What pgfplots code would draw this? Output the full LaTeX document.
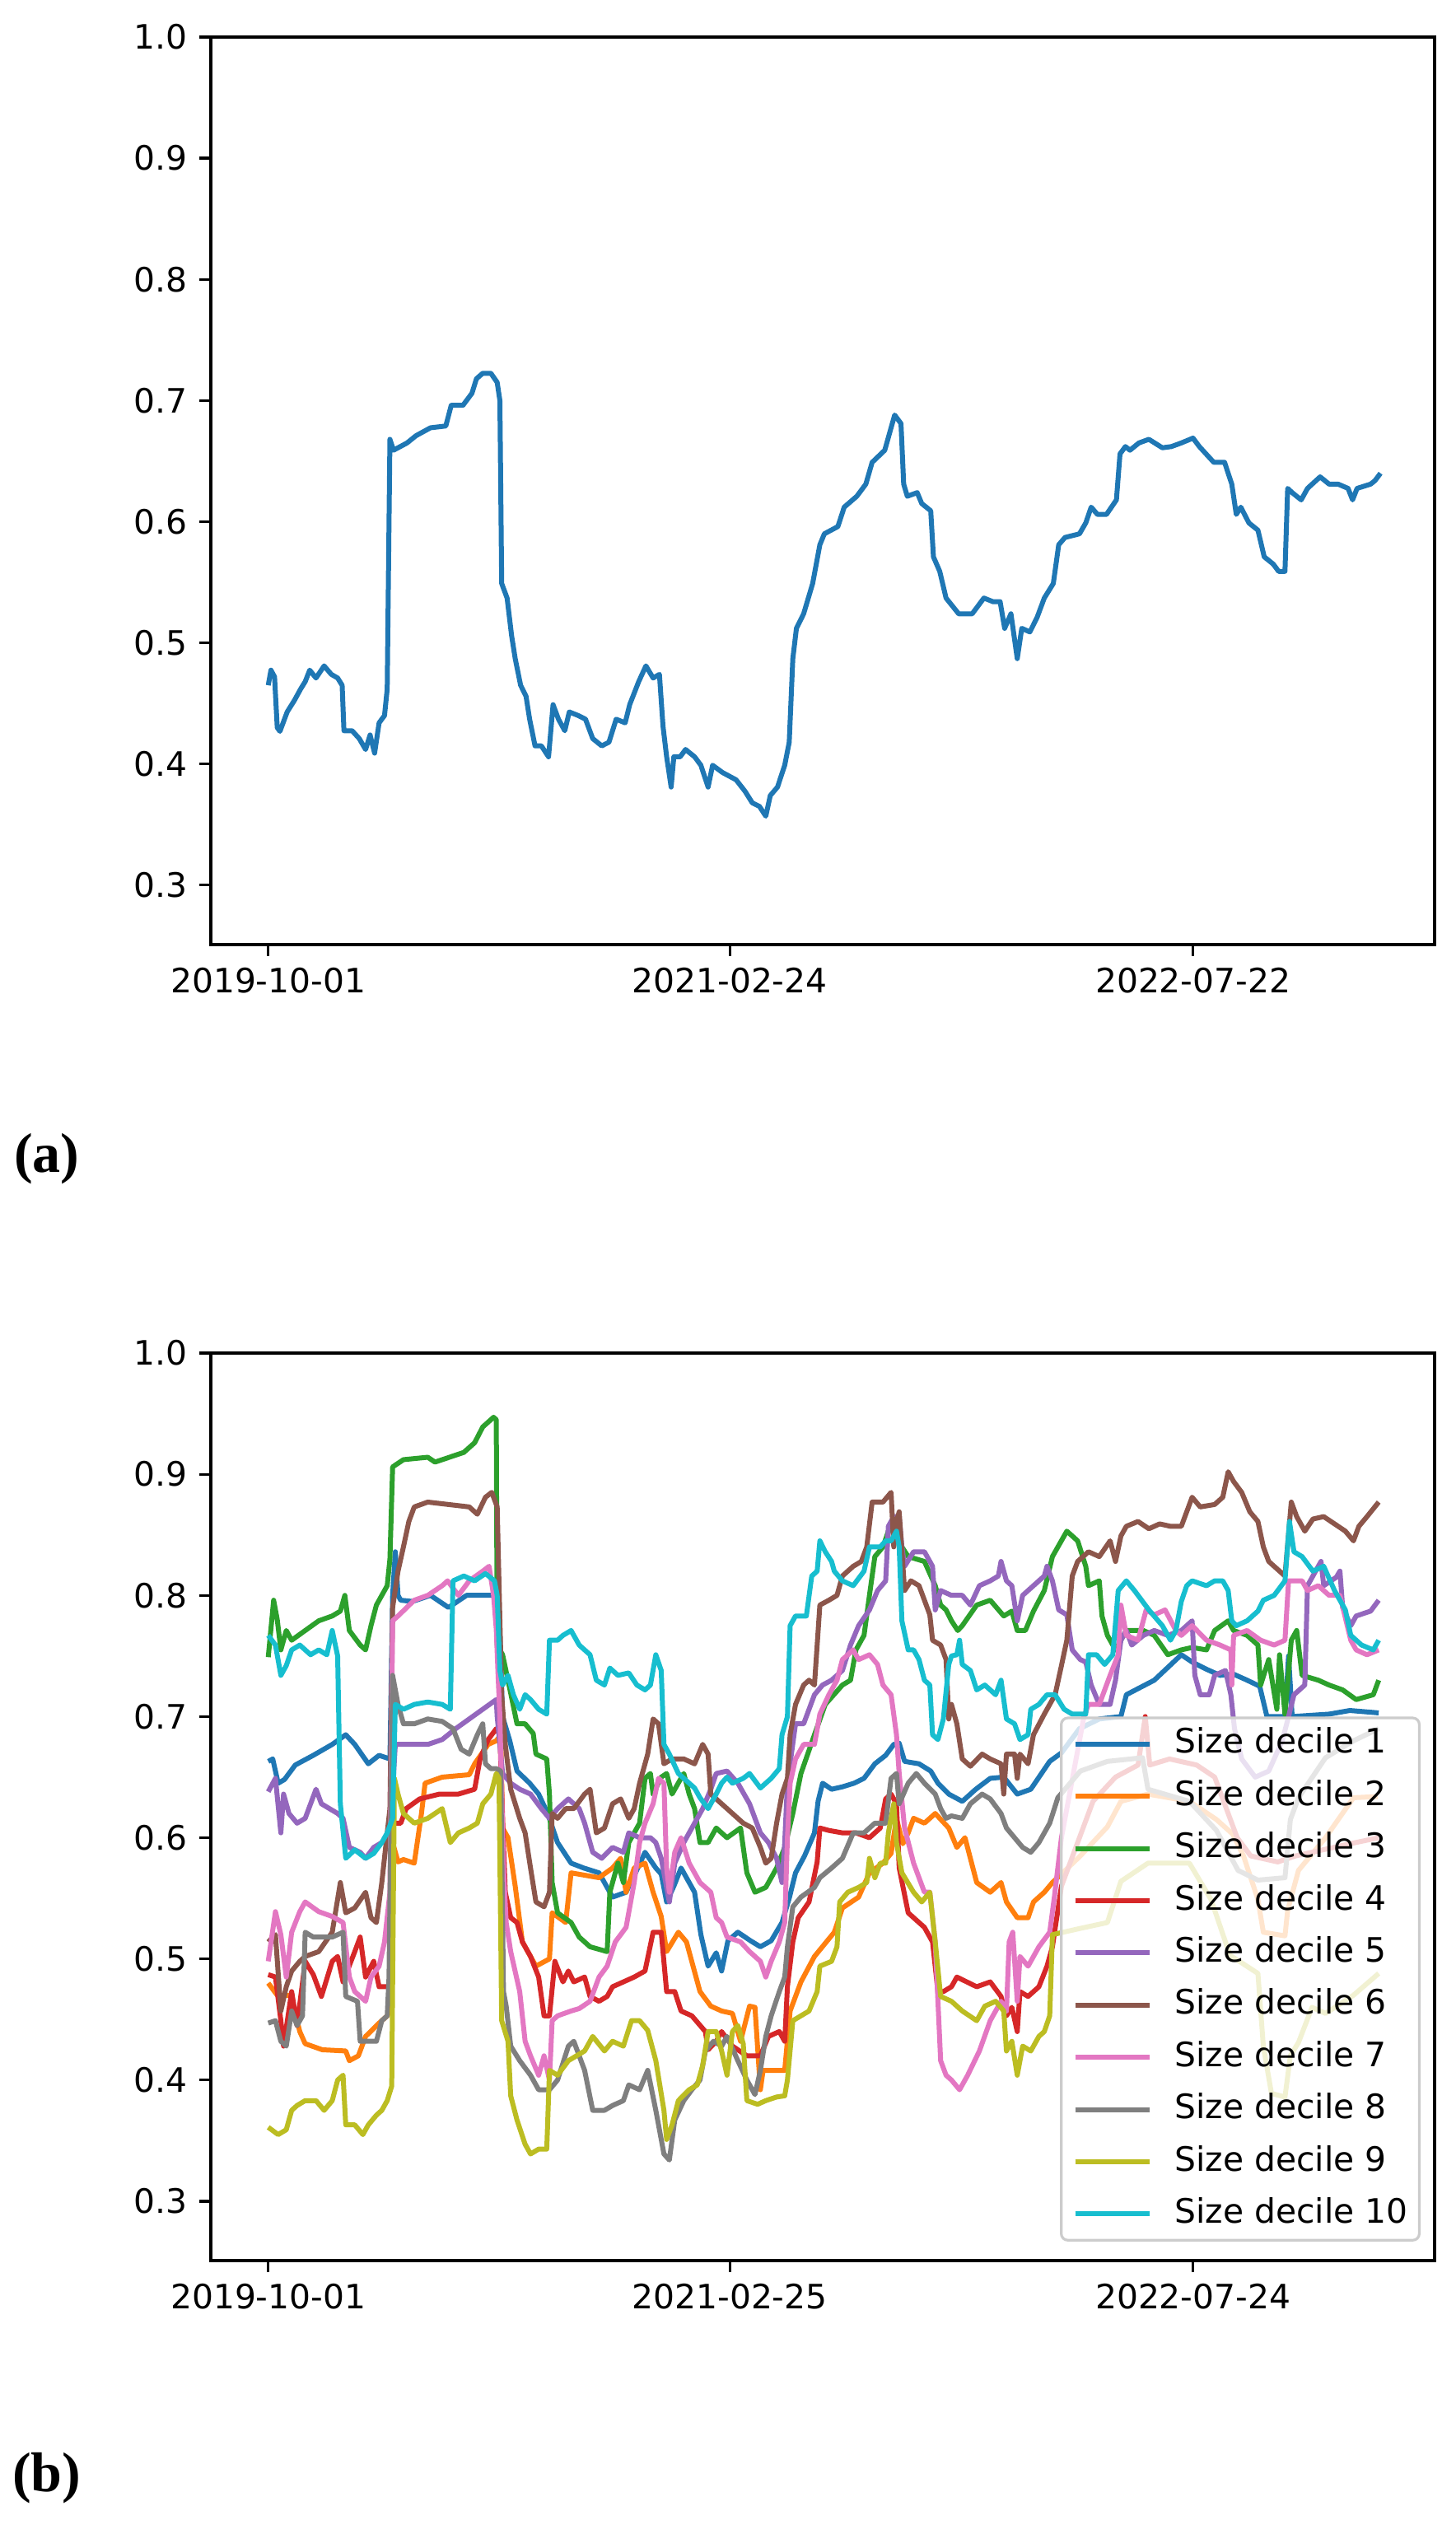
\documentclass[border=0pt]{standalone}
\usepackage{fontspec}
\setmainfont{DejaVu Sans}
\newfontfamily\labfont{Liberation Serif}
\usepackage{pgfplots}
\pgfplotsset{compat=1.18}

\definecolor{c1}{HTML}{1F77B4}
\definecolor{c2}{HTML}{FF7F0E}
\definecolor{c3}{HTML}{2CA02C}
\definecolor{c4}{HTML}{D62728}
\definecolor{c5}{HTML}{9467BD}
\definecolor{c6}{HTML}{8C564B}
\definecolor{c7}{HTML}{E377C2}
\definecolor{c8}{HTML}{7F7F7F}
\definecolor{c9}{HTML}{BCBD22}
\definecolor{c10}{HTML}{17BECF}

\pgfplotsset{
  mpl/.style={
    anchor=south west, scale only axis, width=371.5pt, height=275.5pt,
    xmin=-63.7, xmax=1294, ymin=0.251, ymax=1.0,
    ytick={0.3,0.4,0.5,0.6,0.7,0.8,0.9,1.0},
    yticklabels={0.3,0.4,0.5,0.6,0.7,0.8,0.9,1.0},
    xtick={0,512,1026},
    tick align=outside, xtick pos=left, ytick pos=left,
    major tick length=3.5pt,
    every tick/.style={black, line width=0.8pt},
    axis line style={line width=0.8pt},
    ticklabel style={font=\fontsize{10.2}{12}\selectfont},
    every axis plot/.append style={line width=1.5pt, line join=round, mark=none},
  },
}

\begin{document}
\begin{tikzpicture}[x=1pt,y=1pt]
\useasboundingbox (0,0) rectangle (442,769.25);

% (a) aggregate series
\begin{axis}[mpl, at={(64pt,482.5pt)},
  xticklabels={2019-10-01,2021-02-24,2022-07-22}]
\addplot[c1] coordinates {
(0,0.465)(3,0.4775)(7,0.472)(10,0.43)(13,0.427)(21,0.443)(29,0.4525)(36,0.462)(41,0.468)(46,0.4775)(53,0.471)(62,0.481)(70,0.474)(77,0.471)(82,0.465)(84,0.4275)(93,0.4275)(101,0.421)(108,0.412)(113,0.424)(118,0.409)(123,0.434)(129,0.44)(132,0.462)(135,0.668)(139,0.659)(154,0.665)(164,0.671)(180,0.6775)(197,0.679)(203,0.696)(216,0.696)(226,0.706)(231,0.718)(238,0.7225)(247,0.7225)(254,0.715)(257,0.70)(259,0.549)(265,0.537)(270,0.506)(274,0.487)(280,0.465)(286,0.456)(290,0.437)(296,0.415)(303,0.415)(311,0.406)(316,0.449)(322,0.437)(329,0.4275)(334,0.443)(344,0.44)(352,0.437)(360,0.421)(370,0.415)(378,0.418)(386,0.437)(396,0.434)(401,0.449)(411,0.468)(419,0.481)(427,0.471)(434,0.474)(438,0.431)(442,0.406)(447,0.381)(450,0.406)(457,0.406)(463,0.412)(473,0.406)(480,0.399)(488,0.381)(493,0.399)(504,0.393)(519,0.387)(529,0.3775)(537,0.368)(545,0.365)(552,0.357)(557,0.374)(565,0.381)(573,0.399)(578,0.418)(582,0.487)(586,0.512)(594,0.524)(604,0.549)(612,0.581)(617,0.59)(632,0.596)(639,0.612)(653,0.621)(663,0.631)(670,0.649)(684,0.659)(691,0.6775)(695,0.688)(702,0.681)(705,0.631)(709,0.621)(720,0.624)(725,0.615)(735,0.609)(738,0.571)(745,0.559)(752,0.537)(766,0.524)(781,0.524)(794,0.537)(804,0.534)(812,0.534)(817,0.512)(824,0.524)(831,0.487)(836,0.512)(845,0.509)(853,0.521)(861,0.537)(871,0.549)(877,0.581)(884,0.587)(900,0.59)(907,0.599)(913,0.612)(920,0.606)(930,0.606)(941,0.618)(945,0.656)(951,0.662)(956,0.659)(966,0.665)(977,0.668)(992,0.661)(1002,0.662)(1013,0.665)(1026,0.669)(1033,0.662)(1049,0.649)(1061,0.649)(1069,0.631)(1074,0.606)(1079,0.612)(1088,0.599)(1098,0.593)(1105,0.571)(1115,0.565)(1121,0.559)(1128,0.559)(1131,0.6275)(1136,0.624)(1146,0.618)(1153,0.6275)(1167,0.637)(1177,0.631)(1187,0.631)(1198,0.6275)(1203,0.618)(1208,0.6275)(1223,0.631)(1228,0.634)(1234,0.64)
};
\end{axis}

% (b) size deciles
\begin{axis}[mpl, at={(64pt,83pt)},
  xticklabels={2019-10-01,2021-02-25,2022-07-24},
  legend cell align=left,
  legend image code/.code={\draw[#1] (0pt,0pt) -- (22.5pt,0pt); \path (29.5pt,0pt);},
  legend style={at={(0.9886,0.021)}, anchor=south east,
    draw=black!20, line width=0.8pt, rounded corners=2pt,
    fill=white, fill opacity=0.8, text opacity=1, draw opacity=1,
    font=\fontsize{10.2}{12}\selectfont,
    nodes={inner sep=0pt, text height=8pt, text depth=2.5pt},
    row sep=5.35pt, inner xsep=3.5pt, inner ysep=2.7pt}]
\addplot[c1] coordinates {
(0,0.663)(5,0.665)(11,0.645)(18,0.648)(30,0.66)(50,0.668)(71,0.677)(86,0.685)(96,0.677)(111,0.661)(123,0.668)(135,0.665)(138,0.80)(141,0.836)(144,0.80)(147,0.796)(160,0.795)(180,0.80)(200,0.79)(220,0.80)(240,0.80)(252,0.80)(256,0.79)(260,0.70)(268,0.68)(276,0.655)(290,0.645)(300,0.636)(310,0.62)(321,0.596)(336,0.579)(350,0.575)(367,0.571)(382,0.551)(397,0.555)(410,0.575)(418,0.588)(430,0.575)(436,0.57)(442,0.547)(450,0.56)(458,0.575)(473,0.555)(480,0.52)(488,0.494)(497,0.505)(503,0.49)(510,0.515)(521,0.522)(535,0.515)(546,0.51)(558,0.515)(570,0.53)(578,0.55)(585,0.571)(595,0.585)(606,0.604)(610,0.63)(615,0.645)(625,0.64)(637,0.642)(650,0.645)(661,0.649)(673,0.661)(685,0.668)(694,0.677)(700,0.678)(706,0.663)(722,0.661)(735,0.655)(743,0.645)(755,0.636)(770,0.63)(785,0.64)(801,0.649)(816,0.65)(831,0.636)(846,0.64)(867,0.663)(880,0.67)(900,0.69)(922,0.698)(946,0.70)(952,0.718)(983,0.73)(1013,0.751)(1025,0.745)(1041,0.739)(1056,0.734)(1071,0.735)(1086,0.73)(1100,0.725)(1108,0.70)(1128,0.70)(1132,0.75)(1136,0.70)(1177,0.702)(1200,0.705)(1232,0.703)
};
\addlegendentry{Size decile 1}
\addplot[c2] coordinates {
(0,0.48)(10,0.47)(25,0.47)(35,0.44)(41,0.43)(60,0.425)(86,0.424)(90,0.416)(100,0.42)(108,0.436)(123,0.447)(132,0.453)(136,0.46)(138,0.596)(144,0.58)(150,0.582)(162,0.579)(170,0.62)(174,0.645)(193,0.65)(223,0.652)(229,0.661)(244,0.677)(253,0.68)(258,0.685)(260,0.608)(266,0.60)(274,0.56)(282,0.514)(297,0.494)(312,0.50)(315,0.538)(330,0.53)(336,0.571)(367,0.567)(382,0.575)(391,0.583)(397,0.555)(406,0.575)(418,0.579)(427,0.555)(436,0.535)(442,0.506)(455,0.522)(464,0.514)(479,0.473)(491,0.461)(503,0.457)(515,0.455)(524,0.432)(534,0.461)(540,0.46)(546,0.392)(549,0.408)(573,0.408)(579,0.457)(591,0.481)(606,0.502)(628,0.522)(637,0.542)(655,0.551)(667,0.571)(682,0.579)(691,0.587)(697,0.616)(704,0.595)(710,0.604)(716,0.616)(728,0.612)(740,0.62)(755,0.608)(764,0.592)(773,0.60)(786,0.563)(801,0.555)(813,0.563)(819,0.547)(831,0.534)(843,0.534)(849,0.547)(861,0.555)(870,0.563)(880,0.57)(901,0.585)(931,0.609)(946,0.63)(976,0.636)(1022,0.63)(1052,0.615)(1070,0.603)(1082,0.585)(1098,0.549)(1104,0.522)(1128,0.519)(1131,0.54)(1143,0.573)(1173,0.60)(1204,0.633)(1231,0.634)
};
\addlegendentry{Size decile 2}
\addplot[c3] coordinates {
(0,0.749)(6,0.796)(10,0.78)(14,0.755)(20,0.771)(26,0.763)(41,0.771)(56,0.779)(71,0.783)(80,0.787)(85,0.80)(90,0.771)(102,0.759)(108,0.755)(114,0.775)(120,0.792)(126,0.80)(132,0.808)(135,0.83)(138,0.906)(150,0.912)(177,0.914)(185,0.91)(193,0.912)(217,0.918)(229,0.926)(238,0.939)(250,0.947)(253,0.945)(254,0.759)(260,0.751)(266,0.73)(276,0.694)(285,0.694)(294,0.686)(297,0.669)(309,0.665)(312,0.636)(315,0.563)(321,0.538)(336,0.53)(345,0.518)(357,0.51)(376,0.506)(379,0.555)(388,0.579)(394,0.563)(400,0.596)(412,0.612)(418,0.649)(424,0.653)(427,0.636)(436,0.65)(442,0.653)(448,0.636)(461,0.653)(467,0.636)(473,0.624)(479,0.596)(488,0.596)(497,0.608)(503,0.604)(509,0.6)(524,0.608)(531,0.571)(540,0.555)(552,0.559)(564,0.575)(573,0.592)(582,0.62)(591,0.653)(606,0.685)(618,0.71)(637,0.726)(646,0.73)(652,0.755)(661,0.767)(667,0.80)(673,0.832)(682,0.84)(688,0.853)(694,0.857)(703,0.84)(710,0.832)(728,0.828)(740,0.808)(746,0.792)(752,0.788)(758,0.779)(765,0.771)(770,0.775)(786,0.792)(801,0.796)(816,0.783)(825,0.787)(831,0.771)(840,0.771)(849,0.787)(861,0.804)(870,0.832)(886,0.853)(898,0.845)(907,0.824)(910,0.808)(922,0.812)(925,0.783)(931,0.767)(940,0.755)(952,0.771)(971,0.771)(983,0.767)(998,0.751)(1013,0.755)(1025,0.757)(1041,0.755)(1050,0.771)(1065,0.779)(1071,0.771)(1086,0.767)(1098,0.759)(1101,0.726)(1110,0.747)(1119,0.706)(1122,0.751)(1128,0.702)(1135,0.763)(1141,0.771)(1147,0.734)(1165,0.73)(1177,0.726)(1192,0.722)(1207,0.714)(1226,0.718)(1232,0.73)
};
\addlegendentry{Size decile 3}
\addplot[c4] coordinates {
(0,0.487)(8,0.485)(14,0.449)(17,0.428)(26,0.473)(32,0.445)(41,0.498)(50,0.487)(59,0.469)(71,0.498)(77,0.502)(83,0.481)(96,0.506)(102,0.518)(108,0.485)(117,0.498)(123,0.477)(132,0.477)(136,0.48)(138,0.612)(147,0.612)(153,0.624)(168,0.632)(190,0.636)(211,0.636)(229,0.64)(235,0.665)(244,0.681)(253,0.69)(257,0.685)(260,0.616)(263,0.555)(269,0.534)(276,0.53)(282,0.514)(291,0.502)(300,0.485)(306,0.453)(312,0.453)(318,0.498)(327,0.481)(333,0.49)(339,0.481)(351,0.485)(357,0.469)(367,0.465)(376,0.469)(382,0.477)(394,0.481)(406,0.485)(418,0.49)(427,0.522)(436,0.522)(442,0.473)(451,0.473)(458,0.457)(470,0.453)(485,0.44)(488,0.425)(497,0.432)(503,0.44)(515,0.428)(531,0.42)(546,0.42)(555,0.436)(567,0.44)(573,0.432)(576,0.477)(582,0.514)(588,0.534)(600,0.547)(609,0.58)(612,0.608)(622,0.606)(637,0.604)(652,0.604)(667,0.6)(673,0.604)(679,0.608)(685,0.632)(691,0.636)(697,0.628)(700,0.575)(710,0.538)(722,0.53)(728,0.526)(737,0.514)(743,0.473)(749,0.473)(758,0.477)(764,0.485)(786,0.477)(801,0.481)(813,0.469)(819,0.453)(825,0.46)(831,0.44)(834,0.473)(843,0.469)(855,0.477)(864,0.494)(870,0.51)(880,0.56)(900,0.60)(915,0.63)(940,0.65)(965,0.66)(973,0.70)(978,0.66)(1000,0.665)(1030,0.66)(1050,0.65)(1065,0.62)(1075,0.60)(1090,0.585)(1120,0.58)(1140,0.585)(1170,0.59)(1200,0.595)(1232,0.60)
};
\addlegendentry{Size decile 4}
\addplot[c5] coordinates {
(0,0.638)(8,0.649)(14,0.604)(17,0.636)(23,0.62)(32,0.612)(41,0.616)(53,0.64)(59,0.628)(68,0.624)(77,0.62)(83,0.616)(90,0.592)(102,0.588)(108,0.583)(117,0.592)(126,0.596)(135,0.60)(141,0.677)(177,0.677)(193,0.681)(208,0.69)(223,0.698)(238,0.706)(253,0.714)(254,0.70)(260,0.653)(269,0.645)(279,0.64)(291,0.636)(303,0.624)(312,0.616)(321,0.624)(333,0.632)(345,0.624)(351,0.612)(360,0.588)(370,0.583)(382,0.592)(394,0.588)(400,0.604)(412,0.60)(424,0.60)(430,0.596)(436,0.583)(445,0.547)(451,0.579)(461,0.596)(473,0.612)(482,0.624)(491,0.64)(497,0.653)(509,0.655)(521,0.645)(534,0.628)(546,0.604)(555,0.596)(564,0.583)(570,0.563)(573,0.596)(576,0.645)(585,0.694)(594,0.694)(606,0.718)(615,0.726)(625,0.73)(637,0.738)(646,0.759)(655,0.775)(667,0.788)(676,0.804)(685,0.812)(688,0.857)(694,0.865)(700,0.865)(703,0.84)(706,0.824)(716,0.836)(728,0.836)(737,0.824)(740,0.788)(746,0.804)(758,0.80)(770,0.80)(779,0.792)(789,0.808)(801,0.812)(810,0.816)(813,0.828)(819,0.812)(825,0.808)(831,0.779)(837,0.80)(849,0.808)(861,0.816)(864,0.824)(870,0.812)(877,0.788)(886,0.784)(892,0.755)(901,0.747)(907,0.745)(913,0.726)(922,0.71)(934,0.71)(940,0.73)(946,0.763)(952,0.771)(958,0.759)(971,0.767)(983,0.771)(998,0.767)(1013,0.771)(1025,0.779)(1028,0.734)(1034,0.718)(1044,0.718)(1050,0.734)(1062,0.738)(1068,0.718)(1072,0.69)(1080,0.665)(1095,0.65)(1110,0.655)(1125,0.68)(1132,0.70)(1138,0.718)(1150,0.726)(1153,0.808)(1168,0.828)(1171,0.808)(1185,0.815)(1189,0.82)(1192,0.79)(1201,0.775)(1207,0.783)(1223,0.787)(1232,0.796)
};
\addlegendentry{Size decile 5}
\addplot[c6] coordinates {
(0,0.514)(8,0.52)(14,0.457)(20,0.477)(26,0.49)(35,0.498)(41,0.502)(56,0.506)(71,0.522)(80,0.563)(86,0.538)(96,0.542)(108,0.555)(114,0.534)(120,0.53)(126,0.563)(132,0.604)(135,0.624)(138,0.79)(144,0.82)(150,0.84)(156,0.861)(162,0.873)(177,0.877)(200,0.875)(223,0.873)(232,0.867)(241,0.881)(248,0.885)(254,0.873)(259,0.718)(263,0.677)(269,0.64)(279,0.616)(285,0.604)(291,0.575)(297,0.547)(306,0.543)(312,0.555)(315,0.62)(321,0.616)(330,0.624)(339,0.624)(351,0.636)(357,0.64)(364,0.604)(373,0.608)(382,0.628)(391,0.632)(400,0.616)(406,0.624)(412,0.645)(421,0.669)(427,0.698)(433,0.694)(439,0.661)(448,0.665)(461,0.665)(473,0.661)(482,0.677)(488,0.669)(491,0.636)(503,0.628)(515,0.62)(527,0.612)(537,0.608)(546,0.592)(552,0.579)(558,0.583)(564,0.612)(570,0.636)(576,0.649)(579,0.685)(585,0.71)(594,0.726)(600,0.73)(606,0.726)(612,0.792)(622,0.796)(631,0.80)(637,0.816)(649,0.824)(658,0.828)(664,0.84)(670,0.877)(682,0.877)(691,0.885)(694,0.84)(697,0.861)(700,0.869)(706,0.804)(713,0.812)(722,0.808)(728,0.796)(734,0.784)(737,0.763)(746,0.759)(752,0.747)(755,0.698)(758,0.71)(764,0.694)(770,0.665)(779,0.659)(792,0.669)(801,0.665)(813,0.661)(816,0.636)(819,0.669)(828,0.669)(831,0.649)(834,0.669)(843,0.661)(849,0.685)(861,0.702)(873,0.718)(880,0.742)(886,0.763)(892,0.816)(898,0.828)(910,0.836)(922,0.832)(934,0.845)(940,0.828)(946,0.849)(952,0.857)(965,0.861)(977,0.855)(989,0.859)(1001,0.857)(1013,0.857)(1025,0.881)(1034,0.873)(1050,0.875)(1059,0.881)(1065,0.902)(1071,0.894)(1080,0.885)(1089,0.869)(1098,0.861)(1104,0.84)(1110,0.828)(1122,0.82)(1128,0.816)(1135,0.877)(1141,0.865)(1150,0.853)(1159,0.863)(1171,0.865)(1183,0.859)(1195,0.853)(1204,0.845)(1210,0.857)(1219,0.865)(1232,0.877)
};
\addlegendentry{Size decile 6}
\addplot[c7] coordinates {
(0,0.498)(8,0.539)(14,0.52)(20,0.485)(26,0.522)(35,0.539)(41,0.547)(56,0.539)(71,0.535)(83,0.53)(90,0.485)(96,0.473)(108,0.465)(114,0.485)(123,0.494)(129,0.514)(135,0.555)(138,0.779)(144,0.783)(162,0.796)(177,0.80)(193,0.808)(199,0.812)(211,0.80)(223,0.812)(238,0.82)(245,0.824)(250,0.80)(253,0.772)(255,0.734)(257,0.70)(259,0.636)(261,0.575)(264,0.53)(269,0.506)(279,0.473)(285,0.432)(291,0.42)(300,0.404)(306,0.42)(312,0.40)(315,0.449)(321,0.453)(336,0.457)(345,0.459)(357,0.465)(367,0.485)(376,0.494)(385,0.514)(397,0.526)(406,0.563)(412,0.596)(418,0.612)(427,0.628)(433,0.649)(439,0.645)(442,0.575)(445,0.555)(451,0.588)(458,0.60)(467,0.579)(479,0.563)(491,0.555)(497,0.534)(503,0.53)(509,0.518)(524,0.514)(534,0.506)(546,0.498)(552,0.485)(558,0.498)(567,0.514)(573,0.53)(576,0.60)(579,0.645)(585,0.665)(594,0.677)(606,0.677)(612,0.702)(622,0.718)(631,0.73)(637,0.747)(649,0.755)(655,0.747)(667,0.751)(676,0.743)(682,0.726)(691,0.718)(697,0.685)(700,0.653)(706,0.608)(716,0.579)(728,0.555)(734,0.555)(740,0.514)(746,0.416)(752,0.404)(758,0.40)(767,0.392)(776,0.404)(789,0.424)(801,0.449)(813,0.465)(819,0.457)(822,0.514)(826,0.522)(831,0.465)(834,0.502)(843,0.494)(855,0.51)(867,0.522)(872,0.55)(880,0.60)(895,0.66)(905,0.70)(910,0.71)(922,0.71)(934,0.734)(943,0.751)(946,0.792)(952,0.767)(965,0.763)(974,0.788)(983,0.784)(995,0.788)(1007,0.771)(1013,0.767)(1025,0.775)(1041,0.763)(1056,0.759)(1068,0.755)(1069,0.726)(1071,0.767)(1086,0.771)(1101,0.763)(1116,0.759)(1128,0.763)(1132,0.812)(1147,0.812)(1153,0.804)(1165,0.808)(1177,0.80)(1189,0.80)(1201,0.763)(1207,0.755)(1219,0.751)(1232,0.755)
};
\addlegendentry{Size decile 7}
\addplot[c8] coordinates {
(0,0.447)(8,0.449)(14,0.432)(20,0.428)(26,0.457)(32,0.445)(38,0.453)(41,0.522)(50,0.518)(71,0.518)(83,0.522)(86,0.469)(99,0.465)(102,0.432)(120,0.432)(126,0.449)(132,0.453)(134,0.485)(138,0.734)(144,0.71)(150,0.694)(162,0.694)(177,0.698)(193,0.696)(205,0.69)(214,0.673)(223,0.669)(232,0.685)(238,0.694)(241,0.661)(247,0.657)(253,0.657)(258,0.655)(261,0.473)(264,0.461)(269,0.428)(279,0.416)(291,0.404)(300,0.392)(312,0.392)(321,0.40)(333,0.428)(339,0.432)(351,0.408)(360,0.375)(373,0.375)(382,0.379)(394,0.383)(400,0.396)(412,0.392)(421,0.408)(430,0.375)(439,0.339)(445,0.334)(451,0.367)(461,0.383)(470,0.392)(479,0.40)(485,0.424)(494,0.432)(503,0.428)(509,0.436)(521,0.416)(531,0.40)(540,0.388)(546,0.408)(552,0.436)(558,0.453)(567,0.473)(573,0.485)(576,0.51)(582,0.543)(591,0.551)(606,0.559)(612,0.567)(625,0.575)(637,0.583)(649,0.604)(661,0.604)(673,0.612)(685,0.612)(691,0.649)(697,0.653)(700,0.628)(710,0.645)(719,0.653)(728,0.645)(740,0.636)(746,0.624)(752,0.616)(758,0.618)(770,0.616)(779,0.628)(792,0.636)(801,0.632)(813,0.62)(819,0.608)(828,0.6)(837,0.592)(846,0.588)(855,0.596)(867,0.612)(876,0.633)(901,0.655)(931,0.663)(970,0.666)(976,0.64)(1022,0.63)(1052,0.606)(1076,0.573)(1098,0.565)(1128,0.567)(1134,0.615)(1143,0.633)(1173,0.666)(1204,0.68)(1232,0.69)
};
\addlegendentry{Size decile 8}
\addplot[c9] coordinates {
(0,0.361)(11,0.355)(20,0.359)(26,0.375)(32,0.379)(41,0.383)(53,0.383)(62,0.375)(71,0.383)(77,0.40)(83,0.404)(86,0.363)(96,0.363)(105,0.355)(111,0.363)(120,0.371)(126,0.375)(132,0.383)(137,0.395)(140,0.649)(144,0.636)(150,0.62)(162,0.612)(177,0.616)(193,0.624)(202,0.596)(211,0.604)(223,0.608)(232,0.612)(238,0.628)(247,0.636)(253,0.653)(256,0.649)(259,0.449)(266,0.432)(269,0.387)(276,0.367)(285,0.347)(291,0.339)(300,0.343)(309,0.343)(312,0.408)(321,0.404)(333,0.416)(351,0.424)(360,0.436)(373,0.424)(382,0.432)(394,0.428)(403,0.449)(412,0.449)(421,0.441)(430,0.416)(439,0.375)(442,0.351)(448,0.363)(455,0.383)(467,0.392)(476,0.396)(482,0.412)(488,0.44)(497,0.44)(503,0.424)(509,0.404)(515,0.44)(521,0.445)(527,0.43)(531,0.383)(543,0.38)(552,0.383)(564,0.386)(573,0.387)(576,0.40)(582,0.449)(591,0.453)(600,0.457)(609,0.473)(612,0.494)(625,0.498)(631,0.51)(634,0.547)(643,0.555)(655,0.559)(664,0.563)(667,0.583)(673,0.567)(679,0.579)(685,0.579)(688,0.604)(694,0.628)(697,0.596)(703,0.571)(716,0.555)(725,0.547)(734,0.555)(740,0.514)(746,0.469)(758,0.465)(770,0.457)(786,0.449)(795,0.461)(807,0.465)(816,0.457)(819,0.424)(825,0.432)(831,0.404)(837,0.428)(846,0.424)(855,0.436)(861,0.44)(867,0.453)(870,0.52)(900,0.525)(931,0.53)(946,0.564)(976,0.579)(1022,0.579)(1046,0.549)(1067,0.503)(1098,0.488)(1104,0.428)(1113,0.389)(1128,0.386)(1134,0.42)(1143,0.431)(1158,0.46)(1173,0.455)(1204,0.47)(1232,0.488)
};
\addlegendentry{Size decile 9}
\addplot[c10] coordinates {
(0,0.767)(8,0.759)(14,0.734)(20,0.742)(26,0.755)(35,0.759)(47,0.751)(56,0.755)(65,0.751)(71,0.771)(77,0.75)(80,0.628)(86,0.583)(96,0.59)(108,0.583)(117,0.587)(126,0.596)(132,0.604)(138,0.616)(141,0.71)(150,0.706)(162,0.71)(177,0.712)(193,0.71)(202,0.706)(205,0.812)(217,0.816)(229,0.812)(241,0.818)(251,0.812)(254,0.80)(257,0.738)(260,0.726)(266,0.734)(272,0.718)(279,0.706)(285,0.718)(291,0.714)(300,0.706)(309,0.702)(312,0.763)(321,0.763)(327,0.767)(336,0.771)(345,0.759)(357,0.751)(364,0.73)(373,0.726)(379,0.74)(388,0.734)(400,0.736)(409,0.726)(418,0.722)(424,0.726)(430,0.751)(436,0.738)(439,0.677)(445,0.669)(455,0.653)(461,0.649)(473,0.641)(479,0.633)(488,0.624)(497,0.636)(503,0.645)(509,0.65)(515,0.645)(527,0.649)(534,0.653)(546,0.641)(558,0.649)(567,0.657)(570,0.685)(576,0.70)(579,0.775)(585,0.783)(597,0.783)(603,0.816)(609,0.82)(612,0.845)(618,0.836)(625,0.828)(628,0.82)(637,0.812)(649,0.808)(661,0.82)(667,0.84)(679,0.84)(685,0.845)(691,0.845)(697,0.853)(700,0.84)(703,0.779)(710,0.755)(716,0.755)(722,0.747)(728,0.73)(734,0.726)(737,0.685)(743,0.681)(749,0.698)(755,0.743)(758,0.75)(764,0.751)(767,0.763)(770,0.743)(779,0.738)(786,0.722)(795,0.726)(807,0.718)(813,0.73)(819,0.698)(828,0.694)(834,0.681)(843,0.685)(846,0.706)(855,0.71)(864,0.718)(873,0.718)(883,0.706)(892,0.702)(907,0.702)(910,0.751)(919,0.751)(928,0.743)(937,0.751)(943,0.804)(952,0.812)(961,0.804)(977,0.788)(992,0.775)(1001,0.763)(1007,0.771)(1013,0.795)(1019,0.808)(1025,0.812)(1041,0.808)(1050,0.812)(1059,0.812)(1065,0.804)(1069,0.779)(1074,0.775)(1086,0.779)(1098,0.787)(1104,0.796)(1116,0.80)(1128,0.812)(1133,0.861)(1138,0.836)(1147,0.832)(1159,0.82)(1171,0.824)(1183,0.804)(1195,0.788)(1201,0.767)(1213,0.759)(1226,0.755)(1232,0.763)
};
\addlegendentry{Size decile 10}
\end{axis}

\node[font=\labfont\bfseries\fontsize{17}{19}\selectfont] at (14.2,417.5) {(a)};
\node[font=\labfont\bfseries\fontsize{17}{19}\selectfont] at (14.2,17) {(b)};
\end{tikzpicture}
\end{document}
